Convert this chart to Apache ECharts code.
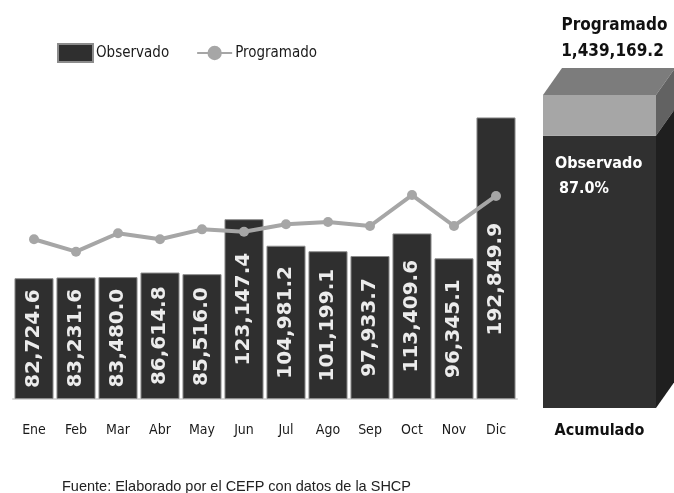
<!DOCTYPE html>
<html>
<head>
<meta charset="utf-8">
<script src="https://cdn.jsdelivr.net/npm/echarts@6/dist/echarts.min.js"></script>
<style>
  html, body { margin: 0; padding: 0; background: #fff; }
  #chart { width: 674px; height: 493px; }
</style>
</head>
<body>
<div id="chart"></div>
<script>
const meses = ["Ene", "Feb", "Mar", "Abr", "May", "Jun", "Jul", "Ago", "Sep", "Oct", "Nov", "Dic"];
const observado = [82724.6, 83231.6, 83480.0, 86614.8, 85516.0, 123147.4, 104981.2, 101199.1, 97933.7, 113409.6, 96345.1, 192849.9];
// (aprox.)
const programado = [109400, 100900, 113500, 109400, 116200, 114600, 119700, 121200, 118500, 139700, 118500, 139100];
const programadoTotal = 1439169.2;
const acumulado = ["Acumulado"];

const narrow = "'DejaVu Sans Condensed', sans-serif";

function fmt(n) {
  const parts = n.toFixed(1).split(".");
  parts[0] = parts[0].replace(/\B(?=(\d{3})+(?!\d))/g, ",");
  return parts.join(".");
}

const observadoTotal = observado.reduce((a, b) => a + b, 0);
const pct = (observadoTotal / programadoTotal * 100).toFixed(1) + "%";

const chart = echarts.init(document.getElementById("chart"));

const option = {
  backgroundColor: "#fff",
  animation: false,
  legend: {
    left: 52,
    top: 38,
    itemWidth: 35,
    itemHeight: 18,
    itemGap: 27,
    textStyle: { fontFamily: narrow, fontSize: 15, color: "#1a1a1a", padding: [0, 0, 0, -2] },
    data: [
      { name: "Observado", icon: "rect" },
      { name: "Programado" },
    ],
  },
  grid: [
    { left: 13, right: 157, top: 107, bottom: 94 },
    { left: 543, right: 18, top: 95, bottom: 85 },
  ],
  xAxis: [
    {
      type: "category",
      gridIndex: 0,
      data: meses,
      axisLine: { lineStyle: { color: "#d9d9d9", width: 2 } },
      axisTick: { show: false },
      axisLabel: { fontFamily: narrow, fontSize: 14, color: "#1a1a1a", margin: 24 },
    },
    {
      type: "category",
      gridIndex: 1,
      data: acumulado,
      axisLine: { show: false },
      axisTick: { show: false },
      axisLabel: { fontFamily: narrow, fontSize: 16, fontWeight: "bold", color: "#111", margin: 15 },
    },
  ],
  yAxis: [
    { type: "value", gridIndex: 0, min: 0, max: 200000, show: false },
    { type: "value", gridIndex: 1, min: 0, max: programadoTotal, show: false },
  ],
  series: [
    {
      name: "Observado",
      type: "bar",
      xAxisIndex: 0,
      yAxisIndex: 0,
      barCategoryGap: "7%",
      itemStyle: { color: "#2f2f2f", borderColor: "#8c8c8c", borderWidth: 1 },
      label: {
        show: true,
        position: "inside",
        rotate: 90,
        fontFamily: "'DejaVu Sans', sans-serif",
        fontWeight: "bold",
        fontSize: 20,
        color: "#ececec",
        formatter: (p) => fmt(p.value),
      },
      data: observado.map((v, i) =>
        i === observado.length - 1 ? { value: v, label: { offset: [-21, 0] } } : v
      ),
      z: 2,
    },
    {
      name: "Programado",
      type: "line",
      xAxisIndex: 0,
      yAxisIndex: 0,
      symbol: "circle",
      symbolSize: 10,
      lineStyle: { color: "#a6a6a6", width: 4 },
      itemStyle: { color: "#a6a6a6" },
      data: programado,
      z: 3,
    },
    {
      type: "custom",
      xAxisIndex: 1,
      yAxisIndex: 1,
      data: [[0, observadoTotal, programadoTotal]],
      encode: { x: 0, y: [1, 2] },
      renderItem: function (params, api) {
        const base = api.coord([0, 0]);
        const band = api.size([1, 0])[0];
        const left = base[0] - band / 2;
        const right = base[0] + band / 2;
        const yBase = base[1];
        const yObs = api.coord([0, api.value(1)])[1];
        const yProg = api.coord([0, api.value(2)])[1];
        const dx = 19, dy = -27;
        return {
          type: "group",
          children: [
            { type: "rect", shape: { x: left, y: yObs, width: right - left, height: yBase - yObs }, style: { fill: "#303030" } },
            { type: "rect", shape: { x: left, y: yProg, width: right - left, height: yObs - yProg }, style: { fill: "#a6a6a6" } },
            { type: "polygon", shape: { points: [[left, yProg], [right, yProg], [right + dx, yProg + dy], [left + dx, yProg + dy]] }, style: { fill: "#7c7c7c" } },
            { type: "polygon", shape: { points: [[right, yProg], [right + dx, yProg + dy], [right + dx, yObs + dy], [right, yObs]] }, style: { fill: "#626262" } },
            { type: "polygon", shape: { points: [[right, yObs], [right + dx, yObs + dy], [right + dx, yBase + dy], [right, yBase]] }, style: { fill: "#1f1f1f" } },
            { type: "text", style: { text: "Programado", x: base[0] + 15, y: yProg - 69, textAlign: "center", textVerticalAlign: "middle", fill: "#111", font: "bold 17px " + narrow } },
            { type: "text", style: { text: fmt(api.value(2)), x: base[0] + 13, y: yProg - 43, textAlign: "center", textVerticalAlign: "middle", fill: "#111", font: "bold 17px " + narrow } },
            { type: "text", style: { text: "Observado", x: left + 12, y: yObs + 28, textAlign: "left", textVerticalAlign: "middle", fill: "#fff", font: "bold 16px " + narrow } },
            { type: "text", style: { text: pct, x: left + 16, y: yObs + 53, textAlign: "left", textVerticalAlign: "middle", fill: "#fff", font: "bold 16px " + narrow } },
          ],
        };
      },
    },
  ],
  graphic: [
    {
      type: "text",
      left: 62,
      top: 479,
      style: {
        text: "Fuente: Elaborado por el CEFP con datos de la SHCP",
        fontFamily: "'Liberation Sans', sans-serif",
        fontSize: 14.5,
        fill: "#222",
      },
    },
  ],
};

chart.setOption(option);
</script>
</body>
</html>
